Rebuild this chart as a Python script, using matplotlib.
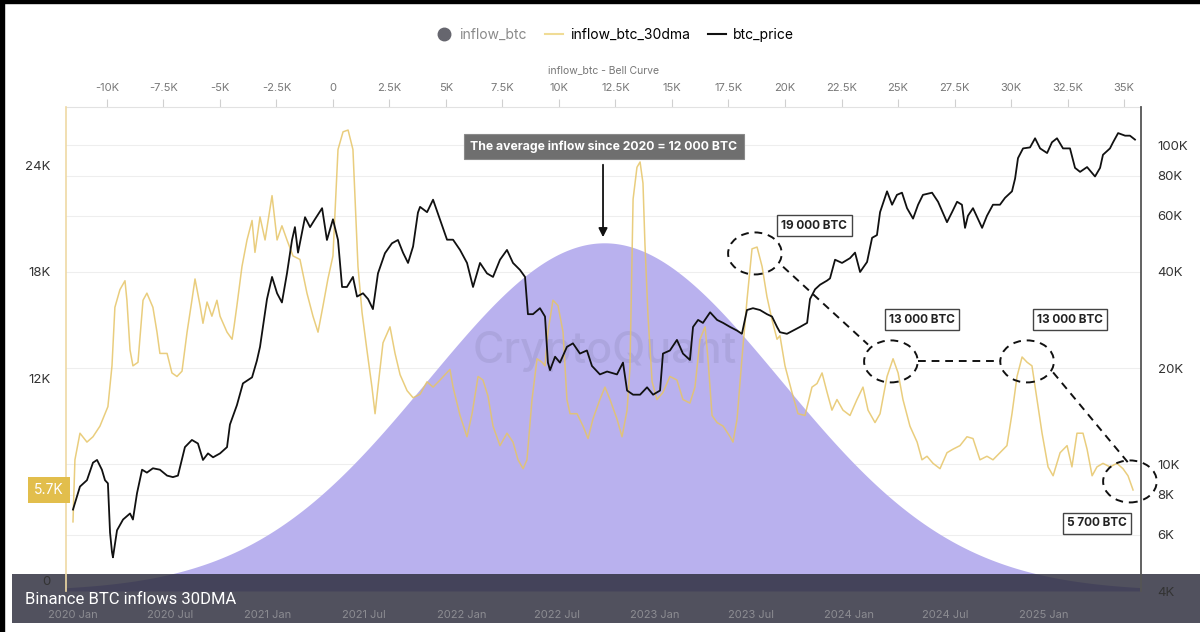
import numpy as np
import pandas as pd
import matplotlib
matplotlib.use('Agg')
import matplotlib.pyplot as plt
import matplotlib.dates as mdates
from matplotlib.patches import Ellipse, Rectangle
from matplotlib.lines import Line2D
from matplotlib.ticker import FuncFormatter, NullLocator

plt.rcParams['font.family'] = ['Inter', 'DejaVu Sans']

# --- data (time in years after 2020-01-01) ---
flow_t = [0.000, 0.010, 0.036, 0.072, 0.103, 0.139, 0.180, 0.201, 0.216, 0.242, 0.268, 0.278, 0.294, 0.309,
          0.335, 0.361, 0.381, 0.412, 0.433, 0.448, 0.485, 0.510, 0.536, 0.562, 0.588, 0.613, 0.629, 0.655,
          0.670, 0.691, 0.716, 0.742, 0.758, 0.794, 0.820, 0.830, 0.845, 0.871, 0.897, 0.923, 0.938, 0.964,
          0.990, 1.026, 1.052, 1.077, 1.103, 1.134, 1.170, 1.206, 1.237, 1.263, 1.289, 1.314, 1.340, 1.366,
          1.392, 1.418, 1.443, 1.454, 1.469, 1.490, 1.515, 1.541, 1.557, 1.572, 1.598, 1.634, 1.660, 1.686,
          1.722, 1.753, 1.789, 1.825, 1.856, 1.892, 1.943, 1.959, 1.995, 2.031, 2.057, 2.088, 2.113, 2.139,
          2.165, 2.201, 2.237, 2.268, 2.294, 2.320, 2.340, 2.366, 2.392, 2.418, 2.433, 2.448, 2.474, 2.500,
          2.526, 2.546, 2.562, 2.598, 2.629, 2.655, 2.680, 2.716, 2.742, 2.768, 2.804, 2.830, 2.856, 2.871,
          2.887, 2.907, 2.923, 2.938, 2.948, 2.964, 2.985, 3.010, 3.041, 3.077, 3.113, 3.144, 3.180, 3.206,
          3.232, 3.258, 3.273, 3.294, 3.320, 3.351, 3.387, 3.402, 3.423, 3.448, 3.474, 3.500, 3.526, 3.552,
          3.577, 3.603, 3.629, 3.644, 3.670, 3.706, 3.737, 3.773, 3.809, 3.835, 3.861, 3.887, 3.912, 3.938,
          3.969, 4.005, 4.041, 4.072, 4.098, 4.134, 4.160, 4.196, 4.227, 4.253, 4.278, 4.314, 4.351, 4.376,
          4.402, 4.433, 4.469, 4.505, 4.536, 4.572, 4.608, 4.639, 4.675, 4.711, 4.742, 4.778, 4.814, 4.840,
          4.866, 4.892, 4.918, 4.943, 4.969, 4.995, 5.026, 5.052, 5.088, 5.124, 5.149, 5.175, 5.206, 5.227,
          5.253, 5.278, 5.309, 5.345, 5.381, 5.412, 5.438, 5.464]
inflow_btc_30dma = [3900, 7400, 8900, 8400, 8700, 9300, 10400, 12700, 16000, 17000, 17500, 16400, 13600, 12700,
                    12900, 16400, 16800, 16000, 14600, 13400, 13400, 12300, 12100, 12400, 14600, 16400, 17600, 16100,
                    15100, 16300, 15500, 16400, 15500, 14600, 14200, 14900, 16100, 18300, 19800, 20900, 19100, 21100,
                    19800, 22300, 19800, 20600, 19800, 18900, 18700, 16800, 15500, 14600, 16100, 17600, 18900, 24900,
                    25900, 26000, 24900, 22100, 18300, 15700, 13600, 11500, 10000, 11500, 14000, 14900, 13400, 12200,
                    11300, 10900, 11100, 11800, 11500, 11900, 12500, 11500, 9900, 8700, 10000, 12100, 11900, 11000,
                    9300, 8200, 8900, 8400, 7400, 6900, 7400, 10800, 13100, 12900, 12700, 14600, 16400, 16100,
                    14600, 10800, 10000, 10000, 9300, 8600, 9700, 10800, 11500, 10800, 9700, 8700, 10200, 12600,
                    22100, 23900, 24200, 23000, 19600, 15500, 11800, 10800, 11200, 12100, 11900, 10800, 10600, 11500,
                    14200, 14900, 13100, 9900, 9500, 9300, 8700, 8400, 9700, 13100, 16400, 19300, 19400, 18300,
                    16600, 15300, 14200, 14400, 12700, 11200, 10000, 9900, 11500, 11700, 12300, 11200, 10200, 10800,
                    10200, 9900, 10800, 11500, 10200, 9500, 10000, 12100, 13100, 12300, 10800, 9300, 8400, 7400,
                    7600, 7200, 6900, 7800, 8000, 8200, 8700, 8600, 7400, 7600, 7400, 7800, 8200, 10000,
                    12100, 13200, 12900, 12700, 10800, 8900, 7000, 6500, 7800, 8200, 7000, 8900, 8900, 8000,
                    6500, 7000, 7200, 7000, 7200, 6900, 6500, 5700]

price_t = [0.000, 0.036, 0.072, 0.103, 0.124, 0.149, 0.165, 0.180, 0.191, 0.201, 0.206, 0.227, 0.258, 0.294,
           0.309, 0.330, 0.356, 0.381, 0.412, 0.448, 0.485, 0.515, 0.541, 0.577, 0.613, 0.644, 0.670, 0.696,
           0.722, 0.758, 0.794, 0.809, 0.845, 0.876, 0.923, 0.948, 0.964, 0.979, 1.000, 1.026, 1.052, 1.077,
           1.103, 1.129, 1.144, 1.160, 1.196, 1.222, 1.247, 1.284, 1.309, 1.340, 1.366, 1.387, 1.412, 1.443,
           1.464, 1.495, 1.521, 1.546, 1.572, 1.608, 1.644, 1.675, 1.701, 1.727, 1.753, 1.778, 1.789, 1.825,
           1.856, 1.892, 1.928, 1.959, 1.995, 2.031, 2.062, 2.098, 2.134, 2.165, 2.201, 2.237, 2.268, 2.304,
           2.330, 2.345, 2.371, 2.407, 2.433, 2.448, 2.459, 2.485, 2.510, 2.546, 2.577, 2.613, 2.649, 2.675,
           2.716, 2.753, 2.804, 2.835, 2.856, 2.887, 2.923, 2.959, 2.990, 3.026, 3.041, 3.077, 3.113, 3.144,
           3.180, 3.196, 3.222, 3.247, 3.284, 3.320, 3.351, 3.387, 3.423, 3.448, 3.474, 3.505, 3.541, 3.577,
           3.603, 3.629, 3.644, 3.680, 3.711, 3.747, 3.784, 3.799, 3.825, 3.851, 3.887, 3.902, 3.928, 3.964,
           4.005, 4.031, 4.057, 4.093, 4.119, 4.144, 4.160, 4.196, 4.222, 4.247, 4.273, 4.299, 4.330, 4.356,
           4.381, 4.428, 4.459, 4.505, 4.531, 4.557, 4.582, 4.598, 4.613, 4.639, 4.686, 4.711, 4.742, 4.778,
           4.804, 4.840, 4.856, 4.871, 4.897, 4.933, 4.959, 4.985, 5.021, 5.046, 5.072, 5.103, 5.139, 5.165,
           5.191, 5.227, 5.268, 5.294, 5.309, 5.345, 5.361, 5.387, 5.423, 5.448, 5.474]
btc_price = [7200, 8500, 8900, 10100, 10300, 9600, 8900, 8700, 6100, 5300, 5100, 6200, 6700, 7000,
             6700, 8100, 9600, 9400, 9700, 9600, 9200, 9100, 9200, 11300, 11900, 11600, 10300, 10800,
             10500, 10800, 11300, 13300, 15300, 17900, 18700, 21100, 23300, 26900, 32900, 38600, 34300, 32100,
             39600, 50400, 55300, 46000, 59400, 55300, 58500, 63400, 50400, 58500, 50400, 35900, 35900, 38600,
             33500, 34300, 32900, 30600, 39600, 45800, 49200, 50400, 46000, 42700, 48100, 61400, 64000, 61600,
             67400, 58400, 50500, 50500, 46900, 42700, 35900, 42700, 39600, 38600, 43700, 46900, 42700, 40600,
             38600, 29500, 29500, 30800, 29000, 20800, 19700, 21700, 20800, 23300, 23900, 22200, 22700, 20300,
             19100, 19500, 19100, 20800, 17000, 16500, 16500, 17400, 16500, 17000, 22200, 22700, 24500, 22200,
             21200, 26900, 28300, 27700, 29900, 28300, 27700, 26900, 26200, 25600, 30400, 30800, 30400, 29500,
             29000, 26900, 25900, 25600, 26200, 26900, 27700, 32900, 35300, 36500, 37600, 38200, 43700, 42700,
             44200, 46000, 40000, 43000, 51200, 52200, 61600, 71600, 65000, 69800, 70900, 63400, 58800, 65000,
             69800, 70900, 66400, 57300, 61600, 66400, 65000, 55000, 60000, 63400, 55000, 60000, 65000, 65000,
             68300, 71600, 78500, 91000, 97600, 98300, 105000, 97600, 94400, 102000, 105000, 97600, 97600, 84800,
             82400, 85300, 79700, 84800, 93200, 97600, 102000, 109000, 107000, 107000, 104000]

bell_mean = 12000   # average inflow since 2020
bell_std = 7800

left_ticks = [0, 12000, 18000, 24000]
left_labels = ['', '12K', '18K', '24K']
right_ticks = [4000, 6000, 8000, 10000, 20000, 40000, 60000, 80000, 100000]
right_labels = ['4K', '6K', '8K', '10K', '20K', '40K', '60K', '80K', '100K']
bell_ticks = np.arange(-10000, 35001, 2500)
date_ticks = pd.date_range('2020-01-01', '2025-01-01', freq='6MS')
last_inflow = 5700

start = pd.Timestamp('2020-01-01')


def to_date(t):
    return start + pd.to_timedelta(np.asarray(t, dtype=float) * 365.25, unit='D')


def kfmt(v, pos=None):
    if v == 0:
        return '0'
    return f'{v / 1000:g}K'


flow_dates = to_date(flow_t)
price_dates = to_date(price_t)

fig = plt.figure(figsize=(12, 6.32), dpi=100)
fig.patch.set_facecolor('white')
rect = [66 / 1200, 1 - 591 / 632, (1141 - 66) / 1200, (591 - 107) / 632]

# faint price grid, lowest layer
ax_grid = fig.add_axes(rect, zorder=-1)
ax_grid.set_yscale('log')
ax_grid.set_ylim(4000, 131600)
ax_grid.set_yticks(right_ticks)
ax_grid.yaxis.set_minor_locator(NullLocator())
ax_grid.grid(axis='y', color='#eeeeee', lw=0.8)
ax_grid.set_xticks([])
ax_grid.tick_params(axis='y', length=0, labelleft=False)
for s in ax_grid.spines.values():
    s.set_visible(False)

# bell curve axis (top x ticks)
ax_bell = fig.add_axes(rect, zorder=0)
ax_bell.patch.set_alpha(0)
xs = np.linspace(-11810, 35750, 600)
bell = np.exp(-0.5 * ((xs - bell_mean) / bell_std) ** 2)
ax_bell.fill_between(xs, 0, bell, color='#b9b1ee', lw=0)
ax_bell.set_xlim(-11810, 35750)
ax_bell.set_ylim(0, 1.39)
ax_bell.xaxis.tick_top()
ax_bell.set_xticks(bell_ticks)
ax_bell.xaxis.set_major_formatter(FuncFormatter(kfmt))
ax_bell.tick_params(axis='x', colors='#d0d0d0', labelcolor='#777', labelsize=8, length=6, pad=4)
ax_bell.set_yticks([])
for s in ['left', 'right', 'bottom']:
    ax_bell.spines[s].set_visible(False)
ax_bell.spines['top'].set_color('#e2e2e2')
ax_bell.xaxis.set_label_position('top')
ax_bell.set_xlabel('inflow_btc - Bell Curve', fontsize=7.5, color='#777', labelpad=7)
ax_bell.text(0.501, 0.494, 'CryptoQuant', transform=ax_bell.transAxes, ha='center', va='center',
             fontsize=31, color='#55557a', alpha=0.13, fontweight='medium')

# inflow axis
ax = fig.add_axes(rect, zorder=1)
ax.patch.set_alpha(0)
ax.plot(flow_dates, inflow_btc_30dma, color='#e6c567', lw=1.1, alpha=0.85)
ax.set_ylim(0, 27300)
ax.set_xlim(to_date(-0.036), to_date(5.505))
ax.set_yticks(left_ticks)
ax.set_yticklabels(left_labels)
ax.tick_params(axis='y', length=0, pad=11, labelsize=9.5, labelcolor='#333')
ax.annotate('0', xy=(0, 0), xycoords=ax.get_yaxis_transform(), xytext=(-11, 2),
            textcoords='offset points', ha='right', va='bottom', fontsize=9.5, color='#333')
ax.set_xticks(date_ticks)
ax.xaxis.set_major_formatter(mdates.DateFormatter('%Y %b'))
ax.tick_params(axis='x', length=0, pad=14, labelsize=8, labelcolor='#8c8c92')
for s in ['top', 'right', 'bottom']:
    ax.spines[s].set_visible(False)
ax.spines['left'].set_color('#efd9a4')
ax.spines['left'].set_linewidth(1.2)

# price axis
ax2 = ax.twinx()
ax2.set_zorder(1.1)
ax2.patch.set_alpha(0)
ax2.set_yscale('log')
ax2.set_ylim(4000, 131600)
ax2.set_yticks(right_ticks)
ax2.set_yticklabels(right_labels)
ax2.yaxis.set_minor_locator(NullLocator())
ax2.tick_params(axis='y', length=0, pad=12, labelsize=9.5, labelcolor='#333')
for s in ['top', 'left', 'bottom']:
    ax2.spines[s].set_visible(False)
ax2.spines['right'].set_color('#555')
ax2.spines['right'].set_linewidth(1.3)
ax2.plot(price_dates, btc_price, color='#111', lw=1.3)

# annotations
ann_kw = dict(ha='center', va='center', fontsize=8.5, fontweight='bold', color='#222', zorder=6,
              bbox=dict(boxstyle='square,pad=0.38', fc='white', ec='#444', lw=1))
ax.text(to_date(3.820), 20600, '19 000 BTC', **ann_kw)
ax.text(to_date(4.376), 15300, '13 000 BTC', **ann_kw)
ax.text(to_date(5.139), 15300, '13 000 BTC', **ann_kw)
ax.text(to_date(5.278), 3820, '5 700 BTC', **ann_kw)

ax.text(to_date(2.737), 25070, 'The average inflow since 2020 = 12 000 BTC', ha='center', va='center',
        fontsize=8.8, fontweight='bold', color='white', zorder=6,
        bbox=dict(boxstyle='square,pad=0.5', fc='#6f6f6f', ec='#8a8a8a', lw=0.8))
ax.annotate('', xy=(to_date(2.732), 19800), xytext=(to_date(2.732), 24200),
            arrowprops=dict(arrowstyle='-|>', color='#111', lw=1.3, mutation_scale=13), zorder=6)

dash = (0, (4, 3))
for t, v in [(3.515, 19040), (4.216, 12950), (4.918, 12950), (5.448, 6180)]:
    ax.add_patch(Ellipse((mdates.date2num(to_date(t)), v), width=101, height=2370, fill=False,
                         ec='#111', lw=1.4, ls=dash, clip_on=False, zorder=6))
for (t1, v1), (t2, v2) in [((3.660, 18290), (4.098, 13900)),
                           ((4.356, 12950), (4.778, 12950)),
                           ((5.052, 12330), (5.438, 7250))]:
    ax.plot([to_date(t1), to_date(t2)], [v1, v2], color='#111', lw=1.4, ls=dash, zorder=6)

# current value marker on left axis
ax.text(-0.002, last_inflow, '5.7K', transform=ax.get_yaxis_transform(), ha='right', va='center',
        color='white', fontsize=10, zorder=7,
        bbox=dict(boxstyle='square,pad=0.42', fc='#e2be4c', ec='none'))

# legend
handles = [Line2D([], [], marker='o', ls='', color='#66666e', markersize=9),
           Line2D([], [], color='#f0dc96', lw=1.5),
           Line2D([], [], color='#111', lw=1.5)]
leg = fig.legend(handles, ['inflow_btc', 'inflow_btc_30dma', 'btc_price'], loc='center',
                 bbox_to_anchor=(0.512, 1 - 35 / 632), ncol=3, frameon=False, fontsize=10,
                 handlelength=1.3, columnspacing=1.3, handletextpad=0.5)
leg.get_texts()[0].set_color('#8a8a8a')

# caption bar overlay
fig.add_artist(Rectangle((12 / 1200, 1 - 623 / 632), 1 - 12 / 1200, (623 - 574) / 632,
                         transform=fig.transFigure, facecolor='#2b2b3a', alpha=0.82, lw=0, zorder=0.5))
fig.text(25 / 1200, 1 - 599 / 632, 'Binance BTC inflows 30DMA', color='white', fontsize=12,
         va='center', ha='left', family=['Roboto', 'DejaVu Sans'], zorder=8)

# screenshot border
fig.add_artist(Rectangle((0, 1 - 3 / 632), 1, 3 / 632, transform=fig.transFigure, color='black', zorder=9))
fig.add_artist(Rectangle((0, 0), 4 / 1200, 1, transform=fig.transFigure, color='black', zorder=9))

fig.savefig('out.png', dpi=100)
